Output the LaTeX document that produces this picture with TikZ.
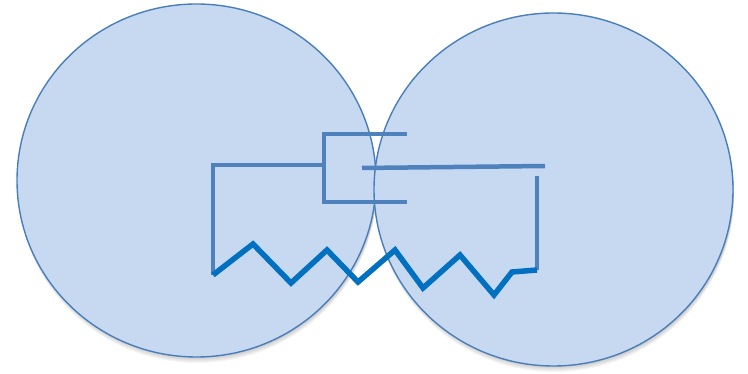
\documentclass[tikz,border=0pt]{standalone}
\usetikzlibrary{calc}
\definecolor{cellfill}{HTML}{C6D9F0}
\definecolor{cellline}{HTML}{4A7EBB}
\definecolor{wireblue}{HTML}{4F81BD}
\definecolor{springblue}{HTML}{0070C0}

\begin{document}
\begin{tikzpicture}[x=1pt, y=-1pt,
    cell/.style={draw=cellline, line width=1.4pt, fill=cellfill},
    wire/.style={wireblue, line width=4.5pt},
    spring/.style={springblue, line width=5.5pt, line join=miter}]
  \useasboundingbox (0,0) rectangle (748,374);

  % Soft shadows under the two cells
  \foreach \d in {1,...,6} {
    \fill[black, opacity=0.035] (197.5,180.5+\d) ellipse [x radius=179.5, y radius=176.5];
    \fill[black, opacity=0.035] (554.5,189.5+\d) ellipse [x radius=179.5, y radius=176.5];
  }

  % The two cells
  \draw[cell] (196.5,180.5) ellipse [x radius=179.5, y radius=176.5];
  \draw[cell] (553.5,189.5) ellipse [x radius=179.5, y radius=176.5];

  % Feet where the spring meets the wires
  \coordinate (leftfoot) at (213,275);
  \coordinate (rightfoot) at (537,270);

  % Left wire into the outer plate
  \draw[wire] (322,165) -- (213,165) -- (leftfoot);
  \draw[wire] (407,134) -- (324,134) -- (324,202) -- (407,202);

  % Right wire with the inner plate
  \draw[wire] (362,168) -- (545,166);
  \draw[wire] (537,176) -- (rightfoot);

  % Spring between the two feet
  \draw[spring] (leftfoot) -- (253,244) -- (291,283) -- (327,250) -- (358,282)
    -- (395,250) -- (423,288) -- (460,255) -- (494,295) -- (512,272) -- (rightfoot);

\end{tikzpicture}
\end{document}
